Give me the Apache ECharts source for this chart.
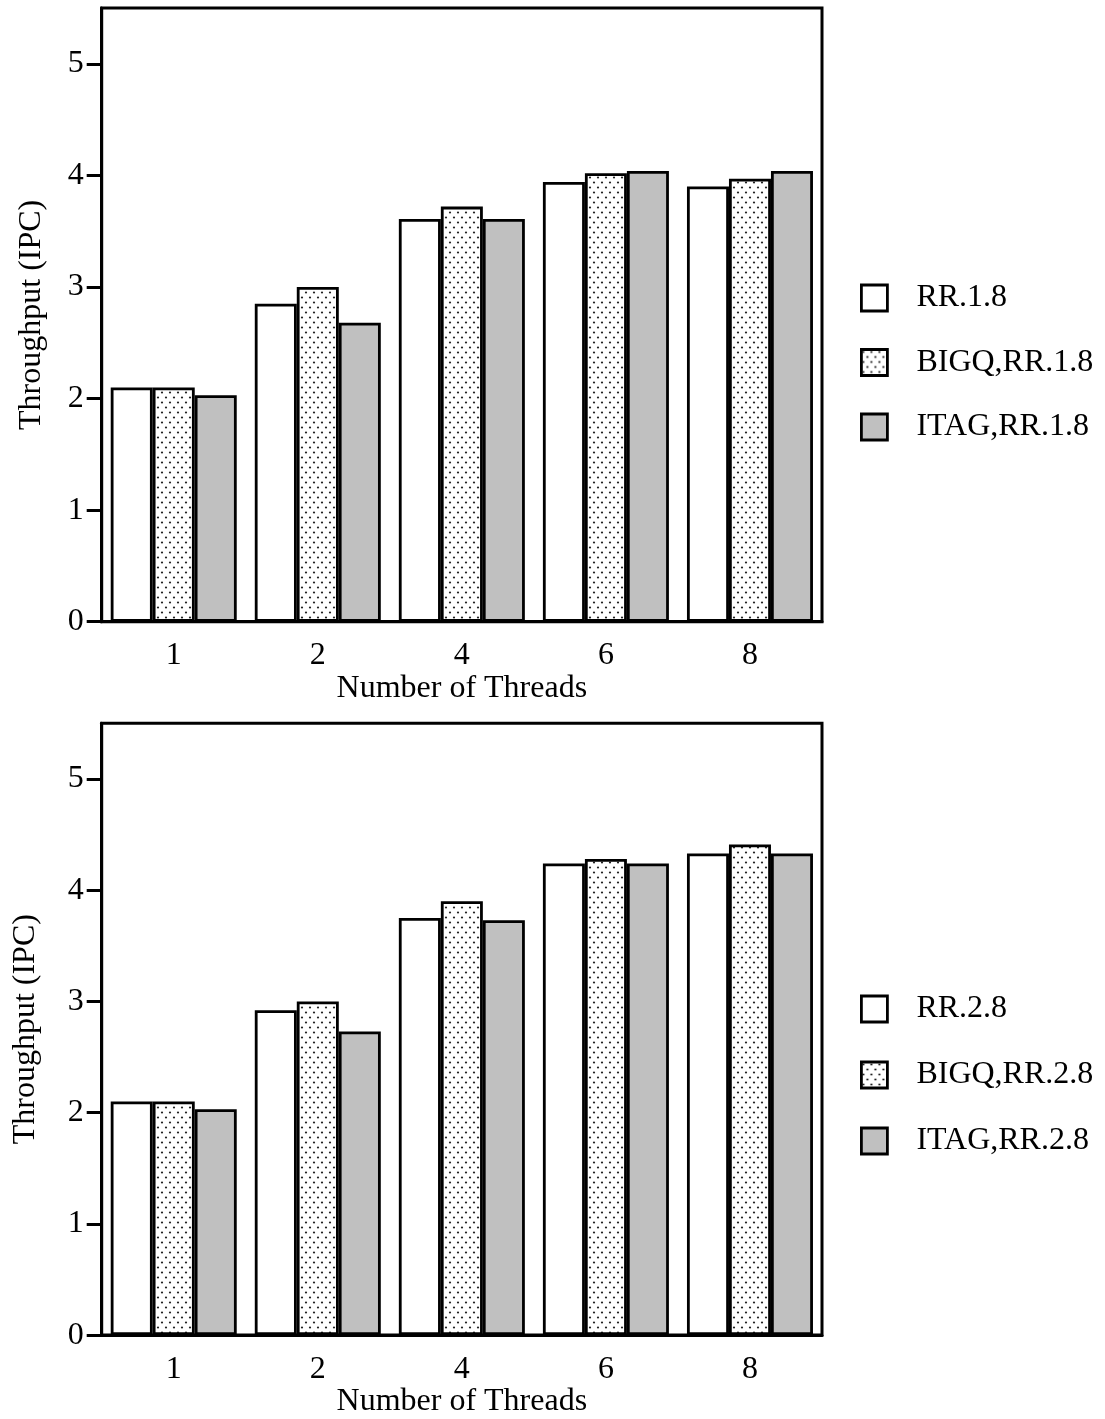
<!DOCTYPE html>
<html>
<head>
<meta charset="utf-8">
<script src="https://cdn.jsdelivr.net/npm/echarts@6/dist/echarts.min.js"></script>
<style>
  html, body { margin: 0; padding: 0; background: #fff; }
  #chart { width: 1105px; height: 1419px; }
</style>
</head>
<body>
<div id="chart"></div>
<script>
// Thread counts on the x axis
const threads = ['1', '2', '4', '6', '8'];
const yTicks = [0, 1, 2, 3, 4, 5];

// Upper panel: .1.8 configurations
const namesTop = ['RR.1.8', 'BIGQ,RR.1.8', 'ITAG,RR.1.8'];
const rrTop   = [2.10, 2.85, 3.61, 3.94, 3.90];
const bigqTop = [2.10, 3.00, 3.72, 4.02, 3.97];
const itagTop = [2.03, 2.68, 3.61, 4.04, 4.04];

// Lower panel: .2.8 configurations
const namesBottom = ['RR.2.8', 'BIGQ,RR.2.8', 'ITAG,RR.2.8'];
const rrBottom   = [2.10, 2.92, 3.75, 4.24, 4.33];
const bigqBottom = [2.10, 3.00, 3.90, 4.28, 4.41];
const itagBottom = [2.03, 2.73, 3.73, 4.24, 4.33];

// Stippled fill used by the BIGQ bars
function dotPattern() {
  const c = document.createElement('canvas');
  c.width = 8; c.height = 10;
  const g = c.getContext('2d');
  g.fillStyle = '#fff';
  g.fillRect(0, 0, 8, 10);
  g.fillStyle = '#222';
  g.beginPath(); g.arc(2, 2.5, 1.1, 0, Math.PI * 2); g.fill();
  g.beginPath(); g.arc(6, 7.5, 1.1, 0, Math.PI * 2); g.fill();
  return c;
}
const pattern = dotPattern();

const FONT = 'Liberation Serif';
const FS = 32;
const fills = ['#ffffff', { image: pattern, repeat: 'repeat' }, '#c0c0c0'];

const chart = echarts.init(document.getElementById('chart'), null, { renderer: 'canvas' });

const gridTop = { left: 101.7, right: 283, top: 8, height: 613.7 };
const gridBottom = { left: 101.7, right: 283, top: 723.3, height: 612.7 };

function xAxis(gi) {
  return {
    type: 'category', gridIndex: gi, data: threads,
    name: 'Number of Threads', nameLocation: 'middle', nameGap: 49,
    nameTextStyle: { fontFamily: FONT, fontSize: FS, color: '#000' },
    axisLine: { lineStyle: { color: '#000', width: 3 } },
    axisTick: { alignWithLabel: true, length: 13, lineStyle: { color: '#000', width: 3 } },
    axisLabel: { fontFamily: FONT, fontSize: FS, color: '#000', margin: 18 },
    splitLine: { show: false }
  };
}
function yAxis(gi, gap) {
  return {
    type: 'value', gridIndex: gi, min: 0, max: 5.5, interval: 1,
    name: 'Throughput (IPC)', nameLocation: 'middle', nameGap: gap, nameRotate: 90,
    nameTextStyle: { fontFamily: FONT, fontSize: FS, color: '#000' },
    axisLine: { show: true, lineStyle: { color: '#000', width: 3 } },
    axisTick: { show: true, length: 15, customValues: yTicks, lineStyle: { color: '#000', width: 3 } },
    axisLabel: { fontFamily: FONT, fontSize: FS, color: '#000', margin: 18, customValues: yTicks },
    splitLine: { show: false }
  };
}
function bars(names, values, gi) {
  return names.map((n, i) => ({
    name: n, type: 'bar', xAxisIndex: gi, yAxisIndex: gi,
    data: values[i], barWidth: 42, barGap: '0%',
    itemStyle: { color: fills[i], borderColor: '#000', borderWidth: 2.8 },
    emphasis: { disabled: true }, animation: false
  }));
}
function legend(names, top, gap) {
  return {
    data: names, orient: 'vertical', left: 855, top: top,
    itemWidth: 26, itemHeight: 26, itemGap: gap, icon: 'rect',
    itemStyle: { borderColor: '#000', borderWidth: 2.8 },
    textStyle: { fontFamily: FONT, fontSize: FS, color: '#000', padding: [0, 0, 0, 24] },
    selectedMode: false
  };
}

chart.setOption({
  backgroundColor: '#fff',
  animation: false,
  grid: [
    Object.assign({ show: true, borderColor: '#000', borderWidth: 3, backgroundColor: 'transparent' }, gridTop),
    Object.assign({ show: true, borderColor: '#000', borderWidth: 3, backgroundColor: 'transparent' }, gridBottom)
  ],
  xAxis: [xAxis(0), xAxis(1)],
  yAxis: [yAxis(0, 54), yAxis(1, 60)],
  legend: [legend(namesTop, 277, 32.5), legend(namesBottom, 988, 34)],
  series: [
    ...bars(namesTop, [rrTop, bigqTop, itagTop], 0),
    ...bars(namesBottom, [rrBottom, bigqBottom, itagBottom], 1)
  ]
});
</script>
</body>
</html>
